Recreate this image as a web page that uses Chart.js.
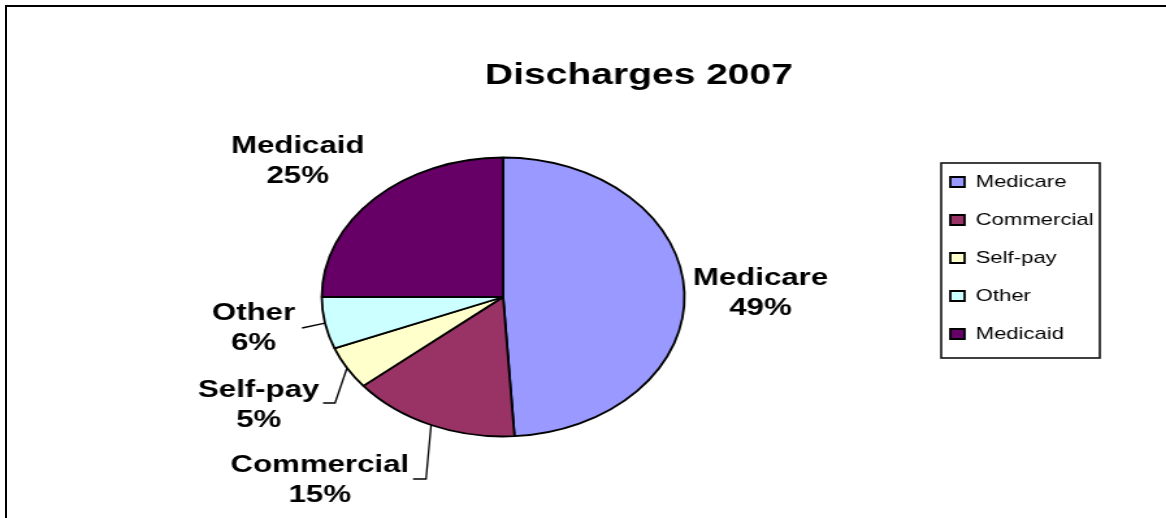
<!DOCTYPE html>
<html><head><meta charset="utf-8">
<script src="https://cdn.jsdelivr.net/npm/chart.js@4/dist/chart.umd.min.js"></script>
<style>
html,body{margin:0;padding:0;background:#fff;overflow:hidden;width:1166px;height:518px;}
#frame{position:absolute;left:5px;top:5px;width:1300px;height:700px;border-top:2px solid #000;border-left:2px solid #000;box-sizing:border-box;}
#c{position:absolute;left:0;top:0;transform:scaleX(1.3);transform-origin:0 0;}
</style></head><body>
<div id="frame"></div>
<canvas id="c" width="897" height="518"></canvas>
<script>
const chartTitle = 'Discharges 2007';
const categories = ['Medicare', 'Commercial', 'Self-pay', 'Other', 'Medicaid'];
const values = [49, 15, 5, 6, 25];
const colors = ['#9999FF', '#993366', '#FFFFCC', '#CCFFFF', '#660066'];

const FONT = '"Liberation Sans", Arial, Helvetica, sans-serif';
const layout = {
  legendLeft: 710, legendTop: 152.5,
  legendFrame: {x: 724, y: 163, w: 122, h: 195},
  titleX: 491.5, titleY: 84,
  labels: [{x: 585, y: 285}, {x: 246, y: 472}, {x: 199, y: 397}, {x: 195, y: 320}, {x: 229, y: 153}],
  leaders: [null, [[317.7, 479], [327.7, 479]], [[248.5, 403], [257.7, 403]], [[232.3, 328]], null],
  lineGap: 30
};

const overlay = {
  id: 'overlay',
  afterLayout(chart) {
    const lg = chart.legend;
    if (!lg) return;
    lg.left = layout.legendLeft; lg.top = layout.legendTop;
    lg.width = 200; lg.height = 260;
    lg.right = lg.left + lg.width; lg.bottom = lg.top + lg.height;
  },
  afterDraw(chart) {
    const ctx = chart.ctx;
    ctx.save();
    ctx.fillStyle = '#000';
    ctx.strokeStyle = '#000';
    ctx.textAlign = 'center';
    ctx.textBaseline = 'alphabetic';
    ctx.font = 'bold 30px ' + FONT;
    ctx.fillText(chartTitle, layout.titleX, layout.titleY);
    ctx.font = 'bold 24px ' + FONT;
    const total = values.reduce((a, b) => a + b, 0);
    const meta = chart.getDatasetMeta(0);
    meta.data.forEach((arc, i) => {
      const p = layout.labels[i];
      ctx.fillText(categories[i], p.x, p.y);
      ctx.fillText(Math.round(values[i] / total * 100) + '%', p.x, p.y + layout.lineGap);
      const ld = layout.leaders[i];
      if (ld) {
        const a = arc.getProps(['x', 'y', 'startAngle', 'endAngle', 'outerRadius'], true);
        const mid = (a.startAngle + a.endAngle) / 2;
        ctx.lineWidth = 1.3;
        ctx.beginPath();
        ctx.moveTo(ld[0][0], ld[0][1]);
        for (let k = 1; k < ld.length; k++) ctx.lineTo(ld[k][0], ld[k][1]);
        ctx.lineTo(a.x + Math.cos(mid) * a.outerRadius, a.y + Math.sin(mid) * a.outerRadius);
        ctx.stroke();
      }
    });
    const f = layout.legendFrame;
    ctx.lineWidth = 1.6;
    ctx.strokeStyle = '#111';
    ctx.strokeRect(f.x, f.y, f.w, f.h);
    ctx.restore();
  }
};

new Chart(document.getElementById('c'), {
  type: 'pie',
  data: {
    labels: categories,
    datasets: [{
      data: values,
      backgroundColor: colors,
      borderColor: '#000',
      borderWidth: 1.8,
      radius: 139.5
    }]
  },
  options: {
    responsive: false,
    animation: false,
    devicePixelRatio: 1,
    layout: {padding: {left: 237, right: 360, top: 152, bottom: 76}},
    plugins: {
      title: {display: false},
      tooltip: {enabled: false},
      legend: {
        display: true,
        position: 'chartArea',
        align: 'start',
        labels: {
          boxWidth: 11, boxHeight: 10, padding: 21, color: '#000',
          font: {size: 17, family: FONT}
        }
      }
    }
  },
  plugins: [overlay]
});
</script>
</body></html>
